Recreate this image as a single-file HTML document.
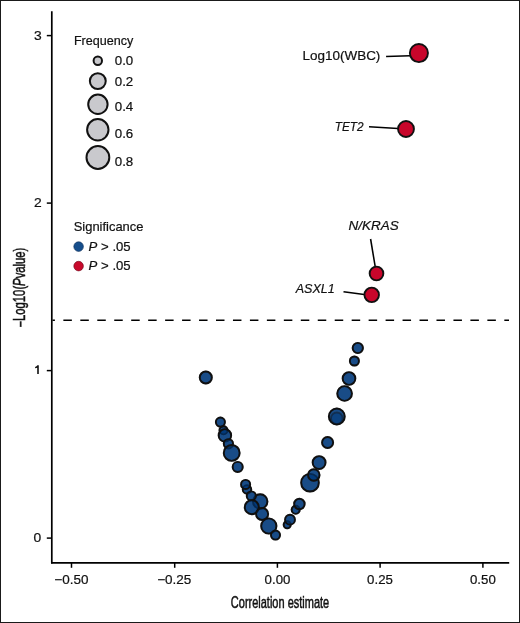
<!DOCTYPE html>
<html><head><meta charset="utf-8"><style>
html,body{margin:0;padding:0;background:#fff;}
svg{display:block;will-change:transform;}
text{font-family:"Liberation Sans",sans-serif;fill:#111;stroke:#111;stroke-width:0.2px;}
</style></head><body>
<svg width="520" height="623" viewBox="0 0 520 623">
<rect width="520" height="623" fill="#fff"/>
<rect x="0.5" y="0.5" width="519" height="622" fill="none" stroke="#1a1a1a" stroke-width="1"/>
<line x1="52.5" y1="320.3" x2="509" y2="320.3" stroke="#000" stroke-width="1.5" stroke-dasharray="8.5 8.46" stroke-dashoffset="6.1"/>
<line x1="51.8" y1="11.2" x2="51.8" y2="563.6" stroke="#000" stroke-width="1.7"/>
<line x1="51" y1="562.8" x2="509.2" y2="562.8" stroke="#000" stroke-width="1.7"/>
<line x1="46.8" y1="35.6" x2="52" y2="35.6" stroke="#000" stroke-width="1.5"/>
<line x1="46.8" y1="203.1" x2="52" y2="203.1" stroke="#000" stroke-width="1.5"/>
<line x1="46.8" y1="370.6" x2="52" y2="370.6" stroke="#000" stroke-width="1.5"/>
<line x1="46.8" y1="538.1" x2="52" y2="538.1" stroke="#000" stroke-width="1.5"/>
<line x1="71.5" y1="563" x2="71.5" y2="567.8" stroke="#000" stroke-width="1.5"/>
<line x1="174.7" y1="563" x2="174.7" y2="567.8" stroke="#000" stroke-width="1.5"/>
<line x1="277.4" y1="563" x2="277.4" y2="567.8" stroke="#000" stroke-width="1.5"/>
<line x1="380.1" y1="563" x2="380.1" y2="567.8" stroke="#000" stroke-width="1.5"/>
<line x1="482.9" y1="563" x2="482.9" y2="567.8" stroke="#000" stroke-width="1.5"/>
<text x="0" y="0" font-size="16" style="stroke-width:0.5px" transform="translate(280,607.6) scale(0.687,1)" text-anchor="middle">Correlation estimate</text>
<text x="0" y="0" font-size="16" style="stroke-width:0.5px" transform="translate(24.8,287.6) rotate(-90) scale(0.705,1)" text-anchor="middle"><tspan dy="1.4">−</tspan><tspan dy="-1.4">Log10(</tspan><tspan font-style="italic">P</tspan>value)</text>
<circle cx="97.8" cy="60.8" r="4.20" fill="#c9c9cd" stroke="#111" stroke-width="2.0"/>
<circle cx="97.8" cy="81.1" r="7.95" fill="#c9c9cd" stroke="#111" stroke-width="2.0"/>
<circle cx="97.9" cy="104.3" r="9.70" fill="#c9c9cd" stroke="#111" stroke-width="2.0"/>
<circle cx="97.8" cy="129.8" r="10.70" fill="#c9c9cd" stroke="#111" stroke-width="2.0"/>
<circle cx="97.9" cy="157.5" r="11.40" fill="#c9c9cd" stroke="#111" stroke-width="2.0"/>
<circle cx="78.6" cy="246.6" r="4.8" fill="#164e8c" stroke="#0d2d55" stroke-width="0.6"/>
<circle cx="78.6" cy="266.1" r="4.8" fill="#c80a2c" stroke="#6a0415" stroke-width="0.6"/>
<line x1="386.1" y1="56.6" x2="410" y2="55.8" stroke="#000" stroke-width="1.55"/>
<line x1="369" y1="126.8" x2="398" y2="128.4" stroke="#000" stroke-width="1.55"/>
<line x1="370.6" y1="239" x2="375.2" y2="266.7" stroke="#000" stroke-width="1.55"/>
<line x1="343.5" y1="291.7" x2="364.2" y2="294.4" stroke="#000" stroke-width="1.55"/>
<g stroke="#111" stroke-width="1.9">
<circle cx="205.8" cy="377.5" r="6.05" fill="#00387a" fill-opacity="0.9"/>
<circle cx="223.5" cy="430.3" r="4.05" fill="#00387a" fill-opacity="0.9"/>
<circle cx="220.4" cy="422.1" r="4.55" fill="#00387a" fill-opacity="0.9"/>
<circle cx="224.9" cy="435.4" r="6.25" fill="#00387a" fill-opacity="0.9"/>
<circle cx="228.4" cy="443.8" r="4.65" fill="#00387a" fill-opacity="0.9"/>
<circle cx="231.7" cy="452.9" r="7.95" fill="#00387a" fill-opacity="0.9"/>
<circle cx="237.7" cy="466.9" r="5.05" fill="#00387a" fill-opacity="0.9"/>
<circle cx="247.0" cy="489.4" r="4.25" fill="#00387a" fill-opacity="0.9"/>
<circle cx="245.6" cy="484.4" r="4.55" fill="#00387a" fill-opacity="0.9"/>
<circle cx="260.2" cy="501.5" r="7.25" fill="#00387a" fill-opacity="0.9"/>
<circle cx="251.3" cy="495.9" r="4.55" fill="#00387a" fill-opacity="0.9"/>
<circle cx="251.8" cy="507.2" r="7.05" fill="#00387a" fill-opacity="0.9"/>
<circle cx="262.1" cy="514.0" r="6.05" fill="#00387a" fill-opacity="0.9"/>
<circle cx="268.8" cy="526.0" r="7.65" fill="#00387a" fill-opacity="0.9"/>
<circle cx="275.5" cy="535.1" r="4.55" fill="#00387a" fill-opacity="0.9"/>
<circle cx="287.2" cy="524.8" r="3.55" fill="#00387a" fill-opacity="0.9"/>
<circle cx="290.0" cy="519.7" r="4.95" fill="#00387a" fill-opacity="0.9"/>
<circle cx="295.7" cy="509.8" r="4.05" fill="#00387a" fill-opacity="0.9"/>
<circle cx="299.4" cy="504.0" r="5.25" fill="#00387a" fill-opacity="0.9"/>
<circle cx="310.0" cy="482.7" r="8.85" fill="#00387a" fill-opacity="0.9"/>
<circle cx="313.8" cy="475.0" r="5.75" fill="#00387a" fill-opacity="0.9"/>
<circle cx="319.1" cy="462.6" r="6.45" fill="#00387a" fill-opacity="0.9"/>
<circle cx="327.6" cy="442.5" r="5.55" fill="#00387a" fill-opacity="0.9"/>
<circle cx="336.8" cy="416.5" r="7.95" fill="#00387a" fill-opacity="0.9"/>
<circle cx="344.6" cy="393.5" r="7.35" fill="#00387a" fill-opacity="0.9"/>
<circle cx="349.0" cy="378.5" r="6.35" fill="#00387a" fill-opacity="0.9"/>
<circle cx="354.4" cy="361.0" r="4.55" fill="#00387a" fill-opacity="0.9"/>
<circle cx="357.8" cy="348.0" r="5.15" fill="#00387a" fill-opacity="0.9"/>
<circle cx="336.8" cy="418.3" r="5.85" fill="#00387a" fill-opacity="0.5" stroke-opacity="0.45"/>
<circle cx="418.9" cy="53.1" r="9.05" fill="#c8062b" />
<circle cx="406.0" cy="129.0" r="7.95" fill="#c8062b" />
<circle cx="376.5" cy="273.5" r="6.85" fill="#c8062b" />
<circle cx="371.7" cy="294.9" r="7.25" fill="#c8062b" />
</g>
<g stroke="#111" stroke-width="1.9" fill="none" stroke-opacity="0.3">
<circle cx="205.8" cy="377.5" r="6.05"/>
<circle cx="223.5" cy="430.3" r="4.05"/>
<circle cx="220.4" cy="422.1" r="4.55"/>
<circle cx="224.9" cy="435.4" r="6.25"/>
<circle cx="228.4" cy="443.8" r="4.65"/>
<circle cx="231.7" cy="452.9" r="7.95"/>
<circle cx="237.7" cy="466.9" r="5.05"/>
<circle cx="247.0" cy="489.4" r="4.25"/>
<circle cx="245.6" cy="484.4" r="4.55"/>
<circle cx="260.2" cy="501.5" r="7.25"/>
<circle cx="251.3" cy="495.9" r="4.55"/>
<circle cx="251.8" cy="507.2" r="7.05"/>
<circle cx="262.1" cy="514.0" r="6.05"/>
<circle cx="268.8" cy="526.0" r="7.65"/>
<circle cx="275.5" cy="535.1" r="4.55"/>
<circle cx="287.2" cy="524.8" r="3.55"/>
<circle cx="290.0" cy="519.7" r="4.95"/>
<circle cx="295.7" cy="509.8" r="4.05"/>
<circle cx="299.4" cy="504.0" r="5.25"/>
<circle cx="310.0" cy="482.7" r="8.85"/>
<circle cx="313.8" cy="475.0" r="5.75"/>
<circle cx="319.1" cy="462.6" r="6.45"/>
<circle cx="327.6" cy="442.5" r="5.55"/>
<circle cx="336.8" cy="416.5" r="7.95"/>
<circle cx="344.6" cy="393.5" r="7.35"/>
<circle cx="349.0" cy="378.5" r="6.35"/>
<circle cx="354.4" cy="361.0" r="4.55"/>
<circle cx="357.8" cy="348.0" r="5.15"/>
</g>
<text x="37.90" y="40.00" text-anchor="middle" font-size="12.5" textLength="7.70" lengthAdjust="spacingAndGlyphs">3</text>
<text x="37.90" y="206.80" text-anchor="middle" font-size="12.5" textLength="7.70" lengthAdjust="spacingAndGlyphs">2</text>
<text x="37.30" y="542.20" text-anchor="middle" font-size="12.5" textLength="7.70" lengthAdjust="spacingAndGlyphs">0</text>
<text x="71.35" y="584.20" text-anchor="middle" font-size="12.5" textLength="34.10" lengthAdjust="spacingAndGlyphs">−0.50</text>
<text x="174.20" y="584.20" text-anchor="middle" font-size="12.5" textLength="34.10" lengthAdjust="spacingAndGlyphs">−0.25</text>
<text x="277.50" y="584.20" text-anchor="middle" font-size="12.5" textLength="25.80" lengthAdjust="spacingAndGlyphs">0.00</text>
<text x="380.00" y="584.20" text-anchor="middle" font-size="12.5" textLength="25.80" lengthAdjust="spacingAndGlyphs">0.25</text>
<text x="482.90" y="584.20" text-anchor="middle" font-size="12.5" textLength="25.80" lengthAdjust="spacingAndGlyphs">0.50</text>
<text x="103.60" y="45.00" text-anchor="middle" font-size="12.6" textLength="59.33" lengthAdjust="spacingAndGlyphs">Frequency</text>
<text x="108.60" y="230.70" text-anchor="middle" font-size="12.6" textLength="69.79" lengthAdjust="spacingAndGlyphs">Significance</text>
<text x="124.00" y="65.00" text-anchor="middle" font-size="12.3" textLength="18.50" lengthAdjust="spacingAndGlyphs">0.0</text>
<text x="124.00" y="85.90" text-anchor="middle" font-size="12.3" textLength="18.50" lengthAdjust="spacingAndGlyphs">0.2</text>
<text x="124.00" y="110.60" text-anchor="middle" font-size="12.3" textLength="18.50" lengthAdjust="spacingAndGlyphs">0.4</text>
<text x="124.00" y="137.50" text-anchor="middle" font-size="12.3" textLength="18.50" lengthAdjust="spacingAndGlyphs">0.6</text>
<text x="124.00" y="166.10" text-anchor="middle" font-size="12.3" textLength="18.50" lengthAdjust="spacingAndGlyphs">0.8</text>
<text x="109.66" y="250.90" text-anchor="middle" font-size="12.6" textLength="42.08" lengthAdjust="spacingAndGlyphs"><tspan font-style="italic">P</tspan> &gt; .05</text>
<text x="109.66" y="269.90" text-anchor="middle" font-size="12.6" textLength="42.08" lengthAdjust="spacingAndGlyphs"><tspan font-style="italic">P</tspan> &gt; .05</text>
<text x="341.40" y="60.10" text-anchor="middle" font-size="12.6" textLength="77.92" lengthAdjust="spacingAndGlyphs">Log10(WBC)</text>
<text x="349.10" y="131.00" text-anchor="middle" font-size="12.6" textLength="28.84" lengthAdjust="spacingAndGlyphs" font-style="italic">TET2</text>
<text x="373.64" y="230.30" text-anchor="middle" font-size="12.6" textLength="50.29" lengthAdjust="spacingAndGlyphs" font-style="italic">N/KRAS</text>
<text x="315.20" y="293.10" text-anchor="middle" font-size="12.6" textLength="39.11" lengthAdjust="spacingAndGlyphs" font-style="italic">ASXL1</text>
<path d="M38.8 365.2 L38.8 373.9 L37.2 373.9 L37.2 367.7 L35.1 368.3 L35.1 366.9 Q36.7 366.3 37.4 365.2 Z" fill="#111"/>
</svg>
</body></html>
